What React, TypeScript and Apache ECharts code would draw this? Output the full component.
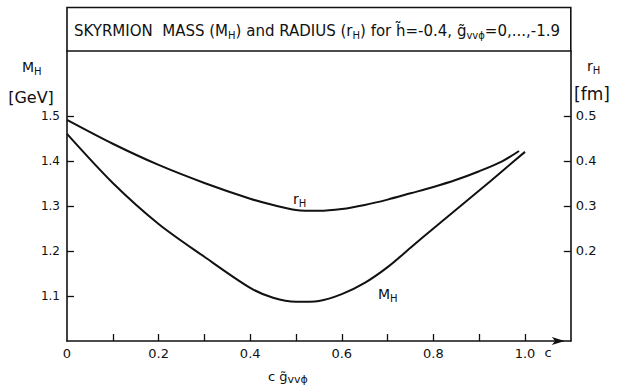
import React, { useEffect, useRef } from "react";
import * as echarts from "echarts";

// c * g~_vvphi values along the horizontal axis
const massC = [0, 0.1, 0.2, 0.3, 0.4, 0.45, 0.5, 0.55, 0.6, 0.65, 0.7, 0.75, 0.8, 0.85, 0.9, 0.95, 1.0];
// Skyrmion mass M_H [GeV]
const massGeV = [1.46, 1.351, 1.26, 1.187, 1.118, 1.096, 1.087, 1.089, 1.104, 1.129, 1.164, 1.207, 1.25, 1.292, 1.334, 1.377, 1.42];
const radiusC = [0, 0.1, 0.2, 0.3, 0.4, 0.45, 0.5, 0.55, 0.6, 0.65, 0.7, 0.75, 0.8, 0.85, 0.9, 0.95, 0.987];
// Skyrmion radius r_H [fm]
const radiusFm = [0.491, 0.438, 0.391, 0.351, 0.316, 0.302, 0.291, 0.289, 0.293, 0.302, 0.314, 0.328, 0.342, 0.358, 0.377, 0.399, 0.422];

const xTickValues = [0.1, 0.2, 0.3, 0.4, 0.5, 0.6, 0.7, 0.8, 0.9, 1.0];
const xLabelValues = [0, 0.2, 0.4, 0.6, 0.8, 1.0];
const massTickValues = [1.1, 1.2, 1.3, 1.4, 1.5];
const radiusTickValues = [0.2, 0.3, 0.4, 0.5];

const FONT = "DejaVu Sans";
const INK = "#111";

export default function App() {
  const ref = useRef<HTMLDivElement>(null);

  useEffect(() => {
    document.body.style.margin = "0";
    if (!ref.current) return;
    const chart = echarts.init(ref.current, undefined, { renderer: "svg" });

    const axisLineStyle = { color: INK, width: 1.6 };
    const labelBase = { color: INK, fontFamily: FONT, fontSize: 12 };
    const m = (fs: number) => ({ fontSize: fs, fontFamily: FONT, fill: INK });
    const s = (fs: number, pad: number) => ({ fontSize: fs, fontFamily: FONT, fill: INK, padding: [pad, 0, 0, 0] });

    const option: any = {
      animation: false,
      backgroundColor: "#fff",
      grid: { left: 67, right: 57.2, top: 51, bottom: 44, containLabel: false },
      xAxis: {
        type: "value",
        min: 0,
        max: 1.1,
        interval: 0.1,
        axisLine: {
          show: true,
          lineStyle: axisLineStyle,
          symbol: ["none", "arrow"],
          symbolSize: [6, 13],
          symbolOffset: [0, -6],
        },
        axisTick: { show: true, inside: true, length: 7, customValues: xTickValues, lineStyle: { color: INK, width: 1.3 } },
        axisLabel: {
          ...labelBase,
          fontSize: 13,
          margin: 6,
          customValues: xLabelValues,
          formatter: (v: number) => (v === 0 ? "0" : v.toFixed(1)),
        },
        splitLine: { show: false },
      },
      yAxis: [
        {
          type: "value",
          position: "left",
          min: 1.0,
          max: 1.644,
          axisLine: { show: true, lineStyle: axisLineStyle },
          axisTick: { show: true, inside: true, length: 7, customValues: massTickValues, lineStyle: { color: INK, width: 1.3 } },
          axisLabel: { ...labelBase, margin: 7, customValues: massTickValues, formatter: (v: number) => v.toFixed(1) },
          splitLine: { show: false },
        },
        {
          type: "value",
          position: "right",
          min: 0,
          max: 0.644,
          axisLine: { show: true, lineStyle: axisLineStyle },
          axisTick: { show: true, inside: true, length: 7, customValues: radiusTickValues, lineStyle: { color: INK, width: 1.3 } },
          axisLabel: { ...labelBase, fontSize: 13, margin: 5, customValues: radiusTickValues, formatter: (v: number) => v.toFixed(1) },
          splitLine: { show: false },
        },
      ],
      series: [
        {
          name: "M_H",
          type: "line",
          yAxisIndex: 0,
          data: massC.map((c, i) => [c, massGeV[i]]),
          smooth: 0.3,
          showSymbol: false,
          lineStyle: { color: INK, width: 2 },
        },
        {
          name: "r_H",
          type: "line",
          yAxisIndex: 1,
          data: radiusC.map((c, i) => [c, radiusFm[i]]),
          smooth: 0.3,
          showSymbol: false,
          lineStyle: { color: INK, width: 2 },
        },
      ],
      graphic: [
        {
          type: "rect",
          shape: { x: 67, y: 7.5, width: 503.8, height: 43.5 },
          style: { fill: "none", stroke: INK, lineWidth: 1.6 },
        },
        {
          type: "text",
          x: 317,
          y: 31,
          style: {
            text:
              "{m|SKYRMION  MASS (M}{s|H}{m|) and RADIUS (r}{s|H}{m|) for h\u0303=-0.4, g\u0303}{s|vv\u03d5}{m|=0,...,-1.9}",
            rich: { m: m(15), s: s(10, 8) },
            align: "center",
            verticalAlign: "middle",
          },
        },
        {
          type: "text",
          x: 22,
          y: 67,
          style: { text: "{m|M}{s|H}", rich: { m: m(14), s: s(10, 8) }, align: "left", verticalAlign: "middle" },
        },
        {
          type: "text",
          x: 31,
          y: 97,
          style: { text: "[GeV]", font: `16px '${FONT}'`, fill: INK, align: "center", verticalAlign: "middle" },
        },
        {
          type: "text",
          x: 587,
          y: 66,
          style: { text: "{m|r}{s|H}", rich: { m: m(14), s: s(10, 8) }, align: "left", verticalAlign: "middle" },
        },
        {
          type: "text",
          x: 592,
          y: 94,
          style: { text: "[fm]", font: `17px '${FONT}'`, fill: INK, align: "center", verticalAlign: "middle" },
        },
        {
          type: "text",
          x: 548,
          y: 352,
          style: { text: "c", font: `13px '${FONT}'`, fill: INK, align: "center", verticalAlign: "middle" },
        },
        {
          type: "text",
          x: 268,
          y: 376,
          style: {
            text: "{m|c g\u0303}{s|vv\u03d5}",
            rich: { m: m(13), s: s(11, 6) },
            align: "left",
            verticalAlign: "middle",
          },
        },
        {
          type: "text",
          x: 293,
          y: 199,
          style: { text: "{m|r}{s|H}", rich: { m: m(14), s: s(10, 8) }, align: "left", verticalAlign: "middle" },
        },
        {
          type: "text",
          x: 378,
          y: 294,
          style: { text: "{m|M}{s|H}", rich: { m: m(14), s: s(10, 8) }, align: "left", verticalAlign: "middle" },
        },
      ],
    };

    chart.setOption(option);
    return () => chart.dispose();
  }, []);

  return <div ref={ref} style={{ position: "fixed", left: 0, top: 0, width: 628, height: 385 }} />;
}
